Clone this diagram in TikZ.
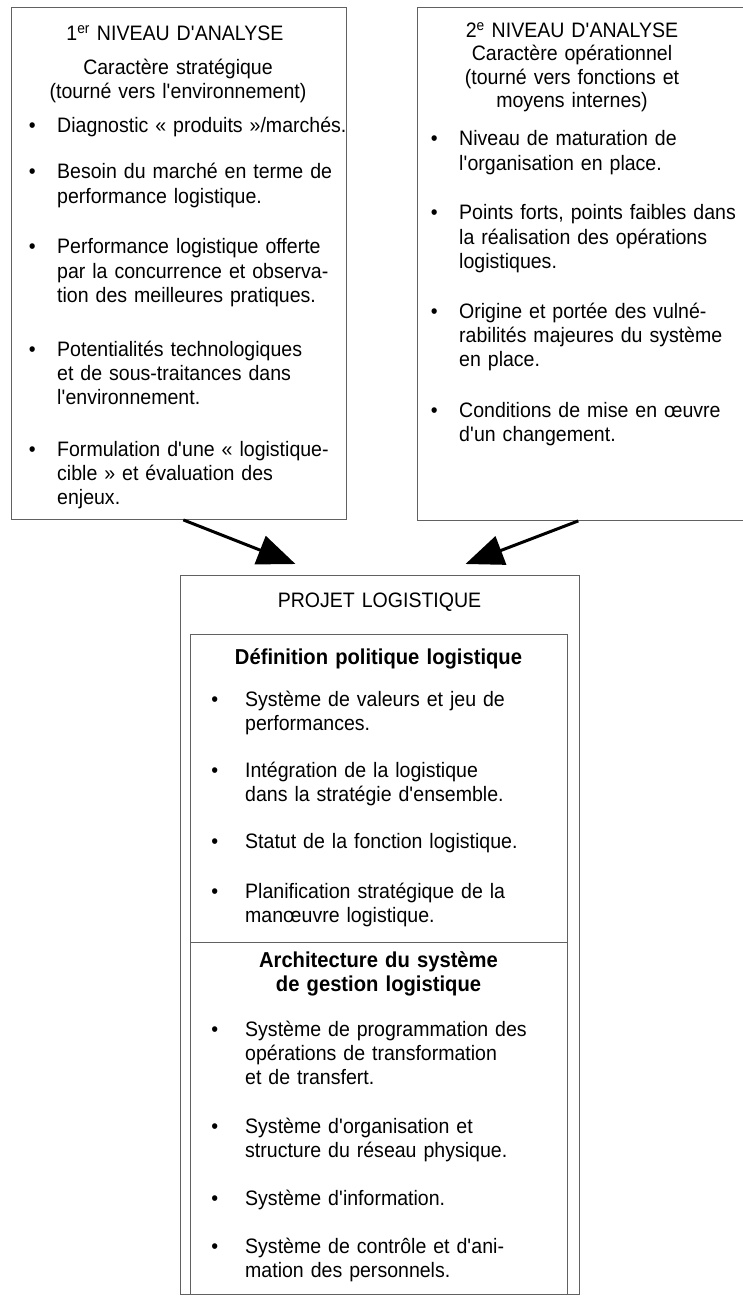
\documentclass[tikz,border=0pt]{standalone}
\usepackage{fontspec}
\setmainfont{Liberation Sans}[FakeStretch=0.935]
\usetikzlibrary{arrows.meta,calc}
\newcommand{\fsz}{\fontsize{20.9}{24.4}\selectfont}
\newcommand{\fsh}{\fontsize{20.9}{23.3}\selectfont}
\newcommand{\fsb}{\bfseries\fontsize{21.6}{24}\selectfont}
\newcommand{\ap}{\textquotesingle}
\newcommand{\bulA}{\llap{•\hspace{21.5pt}}}
\newcommand{\bulB}{\llap{•\hspace{27pt}}}
\tikzset{
  boxline/.style={draw=black!62, line width=0.9pt},
  box/.style={boxline, inner sep=0pt, anchor=north west},
  item/.style={anchor=base west, inner sep=0pt, text width=330pt, align=left, font=\fsz},
  ritem/.style={item, text width=283pt},
  title/.style={anchor=base, inner sep=0pt, text width=320pt, align=center, font=\fsz},
  subtitle/.style={title, font=\fsh},
  boldtitle/.style={title, font=\fsb},
  arr/.style={line width=3pt, black, -{Triangle[length=38pt,width=30pt]}},
}
\begin{document}
\begin{tikzpicture}[x=1pt,y=-1pt]
\useasboundingbox (0,0) rectangle (742,1297);
\fill[white] (0,0) rectangle (742,1297);

% boxes
\node[box, minimum width=335pt, minimum height=512pt] (lbox) at (11,7) {};
\node[box, draw=none, minimum width=325pt, minimum height=513pt] (rbox) at (417,7) {};
\draw[boxline] (rbox.north east) -- (rbox.north west) -- (rbox.south west) -- (rbox.south east);
\node[box, minimum width=399pt, minimum height=719pt] (proj) at (180,575) {};
\node[box, minimum width=377pt, minimum height=660pt] (inner) at (190,634) {};
\coordinate (dv) at (0,942);
\draw[boxline] (inner.west |- dv) -- (inner.east |- dv);

% arrows
\coordinate (a1s) at ($(lbox.south west)!0.513!(lbox.south east)$);
\coordinate (a1e) at ($(proj.north)+(-84.5,-11)$);
\draw[arr] (a1s) -- (a1e);
\coordinate (a2s) at ($(rbox.south west)!0.495!(rbox.south east)$);
\coordinate (a2e) at ($(proj.north)+(85.5,-11)$);
\draw[arr] (a2s) -- (a2e);

% left box text
\node[title] (l0) at (175,41) {1\textsuperscript{er} NIVEAU D\ap ANALYSE};
\node[subtitle] (l00) at (178,75) {Caractère stratégique\\(tourné vers l\ap environnement)};
\node[item] (l1) at (57,133) {\bulA Diagnostic «~produits~»/marchés.};
\node[item] (l2) at (57,179) {\bulA Besoin du marché en terme de\\performance logistique.};
\node[item] (l3) at (57,254) {\bulA Performance logistique offerte\\par la concurrence et observa-\\tion des meilleures pratiques.};
\node[item] (l4) at (57,356) {\bulA Potentialités technologiques\\et de sous-traitances dans\\l\ap environnement.};
\node[item] (l5) at (57,456) {\bulA Formulation d\ap une «~logistique-\\cible~» et évaluation des\\enjeux.};

% right box text
\node[title] (r0) at (572,38) {2\textsuperscript{e} NIVEAU D\ap ANALYSE};
\node[subtitle] (r00) at (572,61) {Caractère opérationnel\\(tourné vers fonctions et\\moyens internes)};
\node[ritem] (r1) at (459,146) {\bulA Niveau de maturation de\\l\ap organisation en place.};
\node[ritem] (r2) at (459,220) {\bulA Points forts, points faibles dans\\la réalisation des opérations\\logistiques.};
\node[ritem] (r3) at (459,318) {\bulA Origine et portée des vulné-\\rabilités majeures du système\\en place.};
\node[ritem] (r4) at (459,417) {\bulA Conditions de mise en œuvre\\d\ap un changement.};

% bottom box text
\node[title] (p0) at (379.5,607) {PROJET LOGISTIQUE};
\node[boldtitle] (p1) at (378.5,664) {Définition politique logistique};
\node[item] (p11) at (245,706) {\bulB Système de valeurs et jeu de\\performances.};
\node[item] (p12) at (245,777) {\bulB Intégration de la logistique\\dans la stratégie d\ap ensemble.};
\node[item] (p13) at (245,848) {\bulB Statut de la fonction logistique.};
\node[item] (p14) at (245,898) {\bulB Planification stratégique de la\\manœuvre logistique.};
\node[boldtitle] (p2) at (378.5,967) {Architecture du système\\de gestion logistique};
\node[item] (p21) at (245,1036) {\bulB Système de programmation des\\opérations de transformation\\et de transfert.};
\node[item] (p22) at (245,1133) {\bulB Système d\ap organisation et\\structure du réseau physique.};
\node[item] (p23) at (245,1205) {\bulB Système d\ap information.};
\node[item] (p24) at (245,1253) {\bulB Système de contrôle et d\ap ani-\\mation des personnels.};
\end{tikzpicture}
\end{document}
